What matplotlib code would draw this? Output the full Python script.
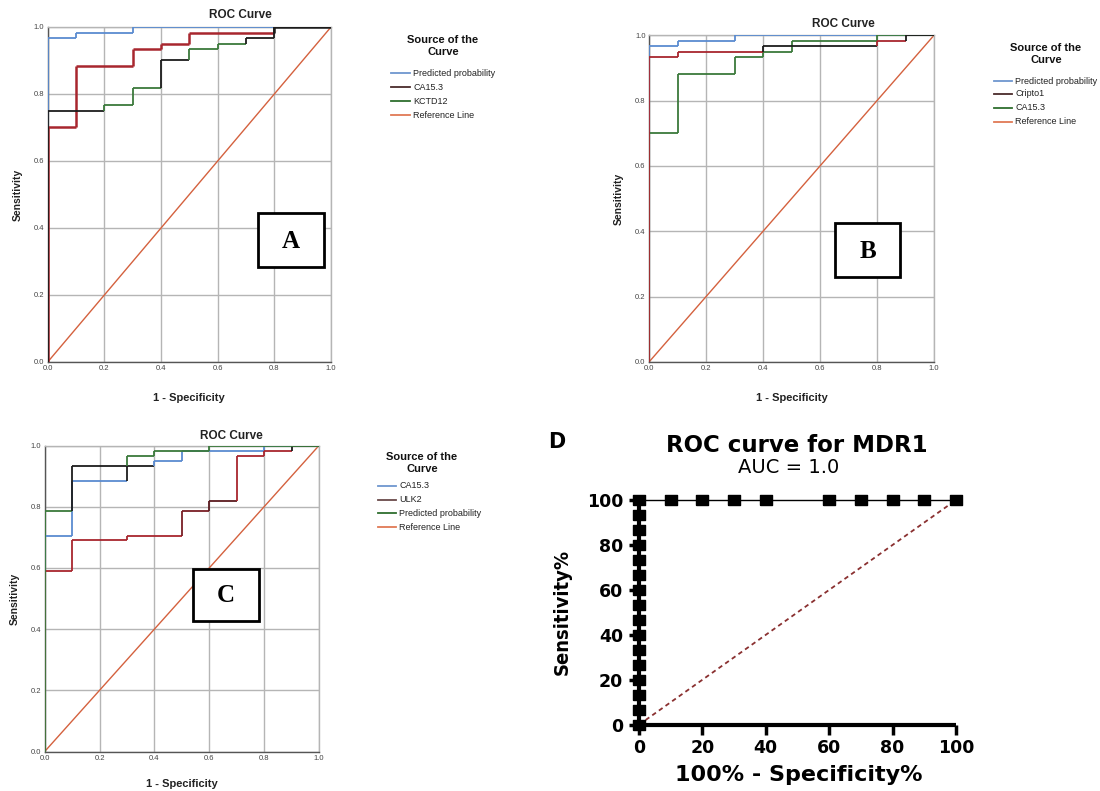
import matplotlib
matplotlib.use("Agg")
import matplotlib.pyplot as plt
from matplotlib.patches import Rectangle
from matplotlib.lines import Line2D
from matplotlib import font_manager as fm

W, H = 1100, 791
DPI = 100

# ---------------- data ----------------
# Panel A
a_pred_x = [0.0, 0.1, 0.3]
a_pred_y = [0.967, 0.983, 1.0]
a_ca153_x = [0.0, 0.1, 0.3, 0.4, 0.5, 0.8]
a_ca153_y = [0.70, 0.883, 0.933, 0.95, 0.983, 1.0]
a_kctd12_x = [0.0, 0.2, 0.3, 0.4, 0.5, 0.6, 0.7, 0.8]
a_kctd12_y = [0.75, 0.767, 0.817, 0.90, 0.933, 0.95, 0.967, 1.0]
a_labels = ["Predicted probability", "CA15.3", "KCTD12", "Reference Line"]

# Panel B
b_pred_x = [0.0, 0.1, 0.3]
b_pred_y = [0.967, 0.983, 1.0]
b_cripto_x = [0.0, 0.1, 0.4, 0.8, 0.9]
b_cripto_y = [0.933, 0.95, 0.967, 0.983, 1.0]
b_ca153_x = [0.0, 0.1, 0.3, 0.4, 0.5, 0.8]
b_ca153_y = [0.70, 0.883, 0.933, 0.95, 0.983, 1.0]
b_labels = ["Predicted probability", "Cripto1", "CA15.3", "Reference Line"]

# Panel C
c_ca153_x = [0.0, 0.1, 0.3, 0.4, 0.5, 0.8]
c_ca153_y = [0.705, 0.883, 0.933, 0.95, 0.983, 1.0]
c_ulk2_x = [0.0, 0.1, 0.3, 0.5, 0.6, 0.7, 0.8, 0.9]
c_ulk2_y = [0.59, 0.69, 0.705, 0.787, 0.82, 0.967, 0.983, 1.0]
c_pred_x = [0.0, 0.1, 0.3, 0.4, 0.6]
c_pred_y = [0.787, 0.933, 0.967, 0.983, 1.0]
c_labels = ["CA15.3", "ULK2", "Predicted probability", "Reference Line"]

# Panel D (MDR1)
d_fpr = [0, 0, 0, 0, 0, 0, 0, 0, 0, 0, 0, 0, 0, 0, 0, 0,
         10, 20, 30, 40, 60, 70, 80, 90, 100]
d_tpr = [0, 6.67, 13.33, 20, 26.67, 33.33, 40, 46.67, 53.33, 60, 66.67,
         73.33, 80, 86.67, 93.33, 100,
         100, 100, 100, 100, 100, 100, 100, 100, 100]
d_ticks = [0, 20, 40, 60, 80, 100]
spss_ticks = [0.0, 0.2, 0.4, 0.6, 0.8, 1.0]

# ---------------- styles ----------------
BLUE = "#5a8bd0"
RED = "#a8262e"
GREEN = "#3b7a3b"
DARK = "#1c1c1c"
REF = "#d4613e"
SANS = ["Liberation Sans", "DejaVu Sans"]
DJ = ["DejaVu Sans"]

fig = plt.figure(figsize=(W / DPI, H / DPI), dpi=DPI)
fig.patch.set_facecolor("white")


def px_axes(left, top, right, bottom):
    return fig.add_axes([left / W, 1 - bottom / H, (right - left) / W, (bottom - top) / H])


def fx(x):
    return x / W


def fy(y):
    return 1 - y / H


def step_curve(ax, xs, ys, colors, lw=1.3, z=3):
    ax.plot([0, 0], [0, ys[0]], color=colors[0], lw=lw, zorder=z, solid_capstyle="butt")
    for i in range(len(xs)):
        x0 = xs[i]
        x1 = xs[i + 1] if i + 1 < len(xs) else 1.0
        ax.plot([x0, x1], [ys[i], ys[i]], color=colors[i], lw=lw, zorder=z,
                solid_capstyle="butt")
        if i + 1 < len(xs):
            ax.plot([x1, x1], [ys[i], ys[i + 1]], color=colors[i + 1], lw=lw, zorder=z,
                    solid_capstyle="butt")


def spss_axes(box, title_x, title_y, ylab_x, xlab_y, letter, letter_box, legend, legend_title_xy):
    ax = px_axes(*box)
    ax.set_xlim(0, 1)
    ax.set_ylim(0, 1)
    ax.set_xticks(spss_ticks)
    ax.set_yticks(spss_ticks)
    ax.set_xticklabels([f"{t:.1f}" for t in spss_ticks])
    ax.set_yticklabels([f"{t:.1f}" for t in spss_ticks])
    ax.tick_params(length=0, labelsize=5.5, labelcolor="#444444", pad=2.5)
    for lab in ax.get_xticklabels() + ax.get_yticklabels():
        lab.set_family(SANS)
    ax.grid(True, color="#b5b5b5", lw=1.0, zorder=0)
    for s in ["top", "right"]:
        ax.spines[s].set_color("#b5b5b5")
        ax.spines[s].set_linewidth(1.0)
    for s in ["left", "bottom"]:
        ax.spines[s].set_color("#555555")
        ax.spines[s].set_linewidth(1.0)
    ax.plot([0, 1], [0, 1], color=REF, lw=1.0, zorder=2)
    fig.text(fx(title_x), fy(title_y), "ROC Curve", ha="center", va="center",
             fontsize=8.5, fontweight="bold", family=SANS, color="#222222")
    cy = (box[1] + box[3]) / 2
    cx = (box[0] + box[2]) / 2
    fig.text(fx(ylab_x), fy(cy), "Sensitivity", rotation=90, ha="center", va="center",
             fontsize=7.5, fontweight="bold", family=SANS, color="#222222")
    fig.text(fx(cx), fy(xlab_y), "1 - Specificity", ha="center", va="center",
             fontsize=8, fontweight="bold", family=SANS, color="#222222")
    l, t, r, b = letter_box
    fig.patches.append(Rectangle((fx(l), fy(b)), (r - l) / W, (b - t) / H,
                                 transform=fig.transFigure, facecolor="white",
                                 edgecolor="black", lw=2.0, zorder=10))
    fig.text(fx((l + r) / 2), fy((t + b) / 2 + 1), letter, ha="center", va="center",
             fontsize=18, fontweight="bold", family=["Liberation Serif", "DejaVu Serif"],
             zorder=11)
    tx, ty = legend_title_xy
    fig.text(fx(tx), fy(ty), "Source of the\nCurve", ha="center", va="center",
             fontsize=8, fontweight="bold", family=SANS, linespacing=1.25, color="#111111")
    for (lx0, lx1, ly, col, txt) in legend:
        fig.lines.append(Line2D([fx(lx0), fx(lx1)], [fy(ly), fy(ly)],
                                transform=fig.transFigure, color=col, lw=1.3))
        fig.text(fx(lx1 + 3), fy(ly), txt, ha="left", va="center",
                 fontsize=6.5, family=SANS, color="#222222")
    return ax


# ---------------- Panel A ----------------
a_leg_y = [73, 87, 101, 115]
a_leg_cols = ["#6e96cf", "#4a2b2b", "#2e6e2e", "#e07a55"]
axA = spss_axes((47.7, 27, 331, 362), 240, 15, 18, 398, "A", (258, 213, 324, 267),
                [(391, 410, y, c, t) for y, c, t in zip(a_leg_y, a_leg_cols, a_labels)],
                (443, 46))
step_curve(axA, a_pred_x, a_pred_y, [BLUE] * 3)
step_curve(axA, a_ca153_x, a_ca153_y, [RED] * 5 + [DARK], lw=1.8)
step_curve(axA, a_kctd12_x, a_kctd12_y, [DARK, GREEN, GREEN, DARK, GREEN, GREEN, DARK, DARK])

# ---------------- Panel B ----------------
b_leg_y = [81, 94, 108, 122]
b_leg_cols = ["#6e96cf", "#4a2b2b", "#2e6e2e", "#e07a55"]
axB = spss_axes((649, 35.3, 934, 362), 843, 24, 619, 398, "B", (835, 223, 900, 277),
                [(994, 1012, y, c, t) for y, c, t in zip(b_leg_y, b_leg_cols, b_labels)],
                (1046, 54))
step_curve(axB, b_pred_x, b_pred_y, [BLUE] * 3)
step_curve(axB, b_ca153_x, b_ca153_y, [GREEN] * 6)
step_curve(axB, b_cripto_x, b_cripto_y, [RED, RED, DARK, RED, DARK])

# ---------------- Panel C ----------------
c_leg_y = [486, 500, 513, 527]
c_leg_cols = ["#6e96cf", "#6a4a4a", "#2e6e2e", "#e07a55"]
axC = spss_axes((44.7, 445.5, 319, 751.5), 231, 436, 15, 784, "C", (193, 569, 259, 621),
                [(378, 396, y, c, t) for y, c, t in zip(c_leg_y, c_leg_cols, c_labels)],
                (422, 463))
step_curve(axC, c_ca153_x, c_ca153_y, [BLUE, BLUE, DARK, BLUE, BLUE, BLUE])
step_curve(axC, c_ulk2_x, c_ulk2_y, [RED, RED, RED, "#7a1f25", "#5a1a1f", RED, RED, DARK])
step_curve(axC, c_pred_x, c_pred_y, [GREEN, DARK, GREEN, GREEN, GREEN])

# ---------------- Panel D ----------------
axD = px_axes(639, 500, 956, 724.7)
axD.set_xlim(0, 100)
axD.set_ylim(0, 100)
for s in ["top", "right"]:
    axD.spines[s].set_visible(False)
for s in ["left", "bottom"]:
    axD.spines[s].set_linewidth(3.0)
    axD.spines[s].set_color("black")
    axD.spines[s].set_capstyle("butt")
axD.set_xticks(d_ticks)
axD.set_yticks(d_ticks)
axD.tick_params(direction="out", length=7, width=2.5, labelsize=12.5)
axD.tick_params(axis="x", pad=3)
axD.tick_params(axis="y", pad=4.5)
for lab in axD.get_xticklabels() + axD.get_yticklabels():
    lab.set_fontweight("bold")
    lab.set_family(DJ)
axD.plot([0, 100], [0, 100], color="#8a3030", lw=1.3, ls=(0, (2.5, 2)), zorder=2)
sq = [(-1.2, -1), (1.2, -1), (1.2, 1), (-1.2, 1), (-1.2, -1)]
axD.plot(d_fpr, d_tpr, color="black", lw=1.0, marker=sq, ms=9, mfc="black",
         mec="black", clip_on=False, zorder=5)
fig.text(fx(797), fy(446), "ROC curve for MDR1", ha="center", va="center",
         fontsize=16.5, fontweight="bold", family=DJ)
fig.text(fx(789), fy(467), "AUC = 1.0", ha="center", va="center",
         fontsize=14, family=DJ)
fig.text(fx(557), fy(442), "D", ha="center", va="center",
         fontsize=15, fontweight="bold", family=DJ)
fig.text(fx(799), fy(775), "100% - Specificity%", ha="center", va="center",
         fontsize=16, fontweight="bold", family=DJ)

# condensed face for the y label if available
cond_fp = fm.FontProperties(family="DejaVu Sans", weight="bold", stretch="condensed")
cond_file = fm.findfont(cond_fp, fallback_to_default=True)
if "ondensed" in cond_file:
    ylab_kw = dict(fontproperties=fm.FontProperties(fname=cond_file, size=14.5))
else:
    ylab_kw = dict(fontsize=11, fontweight="bold", family=DJ)
fig.text(fx(562), fy(612), "Sensitivity%", rotation=90, ha="center", va="center", **ylab_kw)

fig.savefig("out.png", dpi=DPI, facecolor="white")
